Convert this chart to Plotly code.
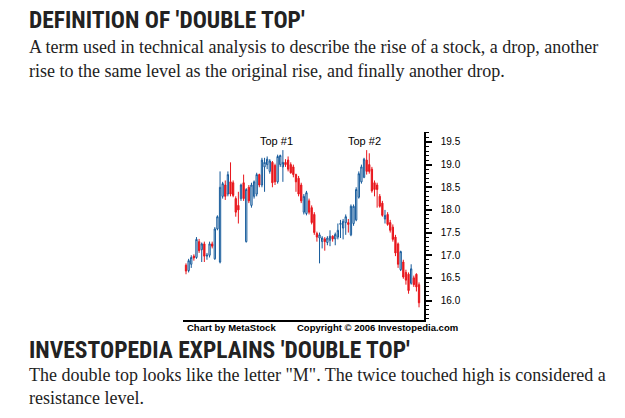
import plotly.graph_objects as go

# ---- data ----
opens  = [16.78,16.66,16.80,16.98,16.95,17.30,17.12,17.25,16.98,17.00,17.25,16.92,17.58,16.85,18.30,18.55,18.35,18.62,18.60,18.25,
          18.10,18.25,18.60,17.30,18.50,18.10,18.30,18.35,18.78,18.55,18.95,19.00,18.85,19.05,18.98,18.62,19.00,18.95,19.05,19.10,
          19.00,18.95,18.78,18.70,18.55,17.95,17.92,18.20,18.05,17.90,17.48,17.38,17.30,17.36,17.28,17.33,17.42,17.36,17.40,17.68,
          17.60,17.72,17.72,17.45,17.70,17.78,18.28,18.62,18.72,19.10,19.00,18.90,18.60,18.55,18.30,18.15,17.80,17.90,17.72,17.62,
          17.40,17.25,16.68,16.85,16.62,16.58,16.38,16.50,16.58,16.35]
highs  = [16.82,16.92,17.00,17.02,17.40,17.36,17.28,17.30,17.05,17.30,17.30,17.62,17.88,18.85,18.62,18.65,18.85,19.05,18.65,18.30,
          18.40,18.58,18.78,18.48,18.55,18.60,18.65,18.82,18.80,19.15,19.15,19.18,19.12,19.08,19.02,19.22,19.22,19.32,19.12,19.18,
          19.05,19.00,18.80,18.75,18.60,18.35,18.42,18.25,18.10,17.95,17.52,17.50,17.42,17.40,17.42,17.55,17.44,17.50,17.70,17.78,
          17.80,17.90,17.80,18.12,18.12,18.50,18.85,19.00,19.15,19.32,19.25,18.95,18.65,18.60,18.35,18.20,18.00,17.95,17.78,17.68,
          17.45,17.28,17.10,16.90,16.68,16.62,16.80,16.55,16.60,16.40]
lows   = [16.58,16.62,16.72,16.88,16.92,17.05,16.85,16.85,16.90,16.95,17.15,16.90,17.55,16.82,18.25,18.22,18.30,18.30,18.28,17.85,
          17.70,18.20,18.20,17.28,18.15,18.05,18.25,18.30,18.50,18.50,18.40,18.90,18.80,18.50,18.55,18.58,18.95,18.62,18.95,18.85,
          18.80,18.72,18.40,18.30,18.15,17.90,17.88,17.90,17.68,17.45,17.30,16.82,17.15,17.10,17.22,17.20,17.30,17.22,17.35,17.38,
          17.35,17.45,17.50,17.42,17.65,17.75,18.25,18.58,18.70,18.78,18.80,18.38,18.30,18.05,18.05,17.85,17.70,17.65,17.50,17.30,
          16.98,16.72,16.65,16.48,16.35,16.15,16.35,16.30,16.20,15.85]
closes = [16.65,16.88,16.95,16.94,17.35,17.10,17.25,16.98,17.00,17.25,17.20,17.58,17.85,18.50,18.58,18.30,18.78,18.35,18.32,17.95,
          18.00,18.55,18.25,18.45,18.20,18.55,18.62,18.78,18.55,19.10,19.05,19.12,19.08,18.60,18.62,19.18,19.20,19.05,19.00,18.90,
          18.82,18.78,18.62,18.35,18.20,18.30,18.38,17.95,17.72,17.50,17.40,17.45,17.38,17.30,17.38,17.42,17.36,17.46,17.55,17.70,
          17.75,17.85,17.68,18.08,18.08,18.45,18.80,18.95,19.12,18.85,18.85,18.42,18.45,18.45,18.08,17.88,17.88,17.68,17.55,17.35,
          17.05,16.80,17.08,16.52,16.45,16.22,16.70,16.35,16.30,15.95]
sessions = list(range(len(closes)))

y_ticks = [16.0, 16.5, 17.0, 17.5, 18.0, 18.5, 19.0, 19.5]
top_labels = ["Top #1", "Top #2"]
top_sessions = [34.5, 68.3]
top_level = 19.52

heading1 = "DEFINITION OF 'DOUBLE TOP'"
para1 = ["A term used in technical analysis to describe the rise of a stock, a drop, another",
         "rise to the same level as the original rise, and finally another drop."]
heading2 = "INVESTOPEDIA EXPLAINS 'DOUBLE TOP'"
para2 = ["The double top looks like the letter \"M\". The twice touched high is considered a",
         "resistance level."]
credit_left = "Chart by MetaStock"
credit_right = "Copyright © 2006 Investopedia.com"

W, H = 625, 418
def px(x):
    return x / W
def py(y):
    return 1 - y / H

BLUE = "#14599a"
RED = "#e8161c"

fig = go.Figure()
fig.add_trace(go.Candlestick(
    x=sessions, open=opens, high=highs, low=lows, close=closes,
    increasing=dict(line=dict(color=BLUE, width=1), fillcolor="rgba(255,255,255,0)"),
    decreasing=dict(line=dict(color=RED, width=1), fillcolor=RED),
    whiskerwidth=0, showlegend=False, hoverinfo="skip",
))

ann = []
for t, s in zip(top_labels, top_sessions):
    ann.append(dict(x=s, y=top_level, xref="x", yref="y", text=t, showarrow=False,
                    font=dict(family="Liberation Sans, Arial", size=11, color="#000"),
                    xanchor="center", yanchor="middle"))

head_font = dict(family="Liberation Sans Narrow, Roboto Condensed, Roboto", size=23.5, color="#222")
body_font = dict(family="Liberation Serif, Times New Roman, serif", size=18, color="#222")

ann.append(dict(x=px(27), y=py(20), xref="paper", yref="paper", text="<b>" + heading1 + "</b>",
                showarrow=False, xanchor="left", yanchor="middle", font=head_font))
ann.append(dict(x=px(27), y=py(47), xref="paper", yref="paper", text=para1[0],
                showarrow=False, xanchor="left", yanchor="middle", font=body_font))
ann.append(dict(x=px(27), y=py(71), xref="paper", yref="paper", text=para1[1],
                showarrow=False, xanchor="left", yanchor="middle", font=body_font))
ann.append(dict(x=px(27), y=py(350), xref="paper", yref="paper", text="<b>" + heading2 + "</b>",
                showarrow=False, xanchor="left", yanchor="middle", font=head_font))
ann.append(dict(x=px(27), y=py(375), xref="paper", yref="paper", text=para2[0],
                showarrow=False, xanchor="left", yanchor="middle", font=body_font))
ann.append(dict(x=px(27), y=py(398), xref="paper", yref="paper", text=para2[1],
                showarrow=False, xanchor="left", yanchor="middle", font=body_font))

credit_font = dict(family="Liberation Sans, Arial", size=9.5, color="#000")
ann.append(dict(x=px(185), y=py(327), xref="paper", yref="paper", text="<b>" + credit_left + "</b>",
                showarrow=False, xanchor="left", yanchor="middle", font=credit_font))
ann.append(dict(x=px(295), y=py(327), xref="paper", yref="paper", text="<b>" + credit_right + "</b>",
                showarrow=False, xanchor="left", yanchor="middle", font=credit_font))

fig.update_layout(
    width=W, height=H,
    margin=dict(l=0, r=0, t=0, b=0),
    paper_bgcolor="white", plot_bgcolor="white",
    annotations=ann,
    xaxis=dict(domain=[px(183), px(424)], range=[-1.15, 90.9], showgrid=False, zeroline=False,
               showticklabels=False, ticks="", showline=True, linecolor="#000", linewidth=1.5,
               rangeslider=dict(visible=False), fixedrange=True),
    yaxis=dict(domain=[py(320), py(132)], range=[15.57, 19.72], side="right", showgrid=False,
               zeroline=False, showline=True, linecolor="#000", linewidth=1.5,
               tickvals=y_ticks, tickformat=".1f", ticks="outside", ticklen=6, tickwidth=1.5,
               tickcolor="#000", ticklabelstandoff=7,
               tickfont=dict(family="Liberation Sans, Arial", size=10, color="#000"),
               minor=dict(dtick=0.1, ticks="outside", ticklen=3, tickcolor="#000", tickwidth=1),
               fixedrange=True),
)

fig.write_html("out.html")
